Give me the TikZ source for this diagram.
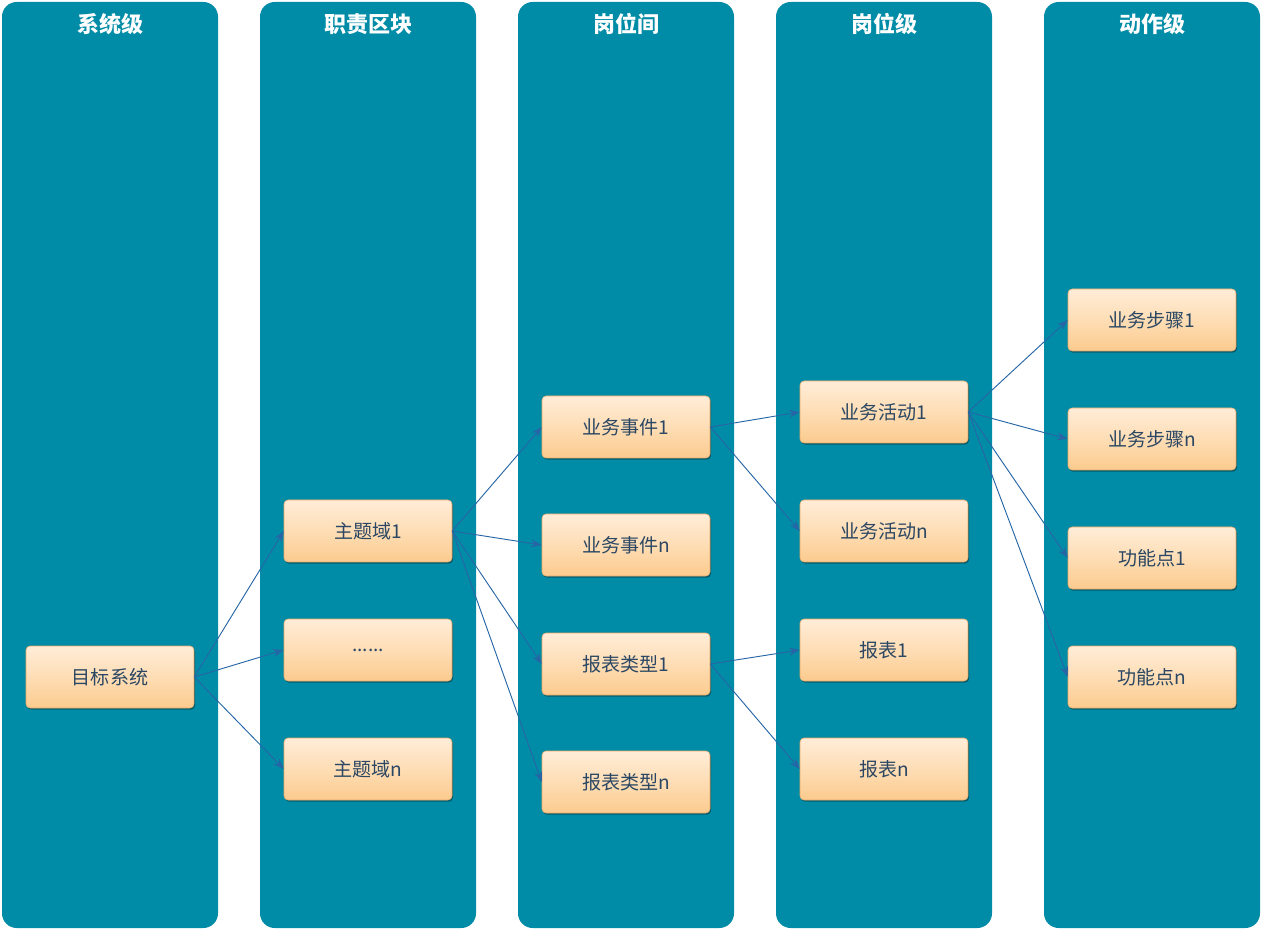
\documentclass[tikz,border=0pt]{standalone}
\usepackage{fontspec}
\setmainfont{Noto Sans CJK SC}
\usetikzlibrary{shadows,arrows.meta}
\definecolor{teal1}{HTML}{008CA6}
\definecolor{boxtop}{HTML}{FFEDD8}
\definecolor{boxmid}{HTML}{FEDDB5}
\definecolor{boxbot}{HTML}{FBCB8E}
\definecolor{boxline}{HTML}{E9A865}
\definecolor{txt}{HTML}{2B4763}
\definecolor{arr}{HTML}{2766A6}
\tikzset{
  lane/.style={fill=teal1, draw=none, rounded corners=11pt},
  lanehead/.style={text=white, font=\fontsize{16.5}{19}\selectfont\bfseries, anchor=center},
  item/.style={rectangle, rounded corners=3pt, draw=boxline, line width=0.4pt,
    top color=boxtop, bottom color=boxbot, middle color=boxmid,
    minimum width=126pt, minimum height=46.5pt, inner sep=0pt,
    text=txt, font=\fontsize{14.3}{17}\selectfont,
    drop shadow={shadow xshift=0.8pt, shadow yshift=-1.2pt, opacity=0.35, fill=black}},
  conn/.style={draw=arr, line width=0.7pt, -{Stealth[length=8pt,width=6pt]}}
}
\begin{document}
\begin{tikzpicture}[x=0.75pt,y=-0.75pt]
\useasboundingbox (0,0) rectangle (1261,930);
% lanes
\fill[lane] (2,2) rectangle (218,928);
\fill[lane] (260,2) rectangle (476,928);
\fill[lane] (518,2) rectangle (734,928);
\fill[lane] (776,2) rectangle (992,928);
\fill[lane] (1044,2) rectangle (1260,928);
\node[lanehead] (h1) at (110,24) {系统级};
\node[lanehead] (h2) at (368,24) {职责区块};
\node[lanehead] (h3) at (626,24) {岗位间};
\node[lanehead] (h4) at (884,24) {岗位级};
\node[lanehead] (h5) at (1152,24) {动作级};
% items
\node[item] (sys) at (110,677) {目标系统};
\node[item] (d1) at (368,531) {主题域1};
\node[item] (dd) at (368,650) {......};
\node[item] (dn) at (368,769) {主题域n};
\node[item] (e1) at (626,427) {业务事件1};
\node[item] (en) at (626,545) {业务事件n};
\node[item] (r1) at (626,664) {报表类型1};
\node[item] (rn) at (626,782) {报表类型n};
\node[item] (a1) at (884,412) {业务活动1};
\node[item] (an) at (884,531) {业务活动n};
\node[item] (b1) at (884,650) {报表1};
\node[item] (bn) at (884,769) {报表n};
\node[item] (s1) at (1152,320) {业务步骤1};
\node[item] (sn) at (1152,439) {业务步骤n};
\node[item] (f1) at (1152,558) {功能点1};
\node[item] (fn) at (1152,677) {功能点n};
% connectors
\foreach \t in {d1,dd,dn} \draw[conn] (sys.east) -- (\t.west);
\foreach \t in {e1,en,r1,rn} \draw[conn] (d1.east) -- (\t.west);
\foreach \t in {a1,an} \draw[conn] (e1.east) -- (\t.west);
\foreach \t in {b1,bn} \draw[conn] (r1.east) -- (\t.west);
\foreach \t in {s1,sn,f1,fn} \draw[conn] (a1.east) -- (\t.west);
\end{tikzpicture}
\end{document}
